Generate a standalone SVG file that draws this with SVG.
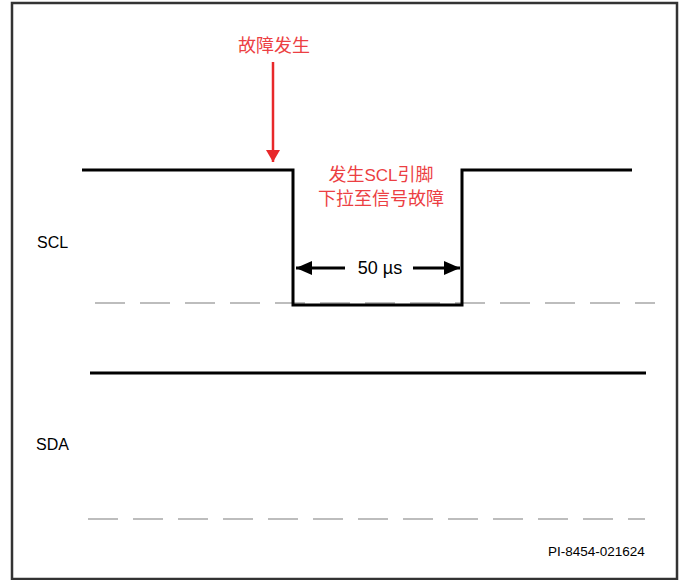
<svg xmlns="http://www.w3.org/2000/svg" width="680" height="580" viewBox="0 0 680 580">
<style>
.sig{fill:none;stroke:#000;stroke-width:3}
.dash{fill:none;stroke:#bdbdbd;stroke-width:2;stroke-dasharray:30 15}
.lbl{font-family:"Liberation Sans",Arial,sans-serif;font-size:16px;fill:#000}
.red{font-family:"Liberation Sans","Noto Sans CJK SC",sans-serif;font-size:18px;fill:#ec3f43;text-anchor:middle}
</style>
<defs>
<marker id="ahr" viewBox="0 0 12 14" markerWidth="12" markerHeight="14" refX="12" refY="7" orient="auto" markerUnits="userSpaceOnUse">
<path d="M0,0 L12,7 L0,14 Z" fill="#e8282a"/>
</marker>
<marker id="ahb" viewBox="0 0 16 14" markerWidth="16" markerHeight="14" refX="16" refY="7" orient="auto" markerUnits="userSpaceOnUse">
<path d="M0,0 L16,7 L0,14 Z" fill="#000"/>
</marker>
</defs>
<rect x="12" y="3" width="665" height="576" fill="#fff" stroke="#333" stroke-width="2.5"/>
<g id="scl">
<path class="dash" d="M95,303 H655"/>
<path class="sig" d="M82,170 H293 V305 H462 V170 H632"/>
<text class="lbl" x="37" y="248">SCL</text>
</g>
<g id="sda">
<path class="dash" d="M88,519 H645"/>
<path class="sig" d="M90,373 H646"/>
<text class="lbl" x="36" y="450">SDA</text>
</g>
<g id="fault">
<text class="red" x="274" y="52">故障发生</text>
<text class="red" x="381" y="181"><tspan>发生</tspan><tspan style="font-size:17px">SCL</tspan><tspan>引脚</tspan></text>
<text class="red" x="381" y="205">下拉至信号故障</text>
</g>
<g id="connectors">
<line x1="273" y1="62" x2="273" y2="162" stroke="#e8282a" stroke-width="2.5" marker-end="url(#ahr)"/>
<line x1="345" y1="268" x2="296" y2="268" stroke="#000" stroke-width="3" marker-end="url(#ahb)"/>
<line x1="413" y1="268" x2="460" y2="268" stroke="#000" stroke-width="3" marker-end="url(#ahb)"/>
</g>
<text class="lbl" x="380" y="274" text-anchor="middle" style="font-size:18px">50 µs</text>
<text x="548" y="556" font-family="'Liberation Sans',Arial,sans-serif" font-size="13.5" fill="#000">PI-8454-021624</text>
</svg>
